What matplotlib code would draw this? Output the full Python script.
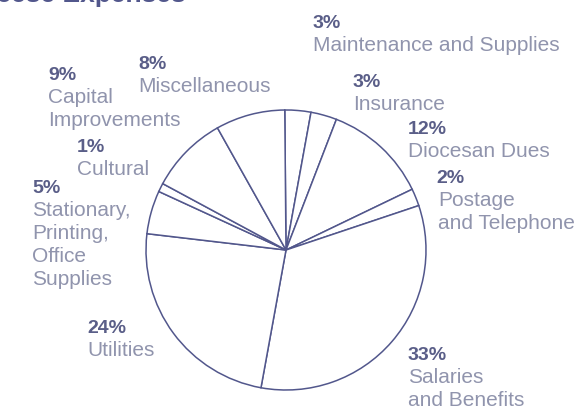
import matplotlib
matplotlib.use("Agg")
import matplotlib.pyplot as plt

# ---- data ----
categories = ["Maintenance and Supplies", "Insurance", "Diocesan Dues",
              "Postage and Telephone", "Salaries and Benefits", "Utilities",
              "Stationary, Printing, Office Supplies", "Cultural",
              "Capital Improvements", "Miscellaneous"]
percents = [3, 3, 12, 2, 33, 24, 5, 1, 9, 8]
label_lines = [["Maintenance and Supplies"], ["Insurance"], ["Diocesan Dues"],
               ["Postage", "and Telephone"], ["Salaries", "and Benefits"],
               ["Utilities"], ["Stationary,", "Printing,", "Office", "Supplies"],
               ["Cultural"], ["Capital", "Improvements"], ["Miscellaneous"]]
title = "Diocese Expenses"

# ---- layout (image pixel coords: x, baseline y of the percent line) ----
label_pos = [(313, 28), (353, 87), (408, 134), (436, 183), (408, 360),
             (87, 333), (32, 193), (77, 152), (48, 80), (138, 69)]
name_dx = [0, 0, 0, 2, 0, 0, 0, 0, 0, 0]

W, H = 579, 411
line_col = "#52578c"
pct_col = "#5a5e88"
name_col = "#9094ad"

fig = plt.figure(figsize=(W / 100, H / 100), dpi=100)
ax = fig.add_axes([0, 0, 1, 1])
ax.set_xlim(0, W)
ax.set_ylim(0, H)
ax.axis("off")

ax.pie(percents, startangle=90.5, counterclock=False,
       center=(286, H - 250), radius=140, colors=["white"] * len(percents),
       wedgeprops=dict(edgecolor=line_col, linewidth=1.1))
ax.set_xlim(0, W)
ax.set_ylim(0, H)
ax.set_aspect("auto")

font = "Liberation Sans"
step = 23
for i, p in enumerate(percents):
    x, y = label_pos[i]
    ax.text(x, H - y, f"{p}%", ha="left", va="baseline", family=font,
            fontsize=14, fontweight="bold", color=pct_col)
    for j, ln in enumerate(label_lines[i]):
        ax.text(x + name_dx[i], H - (y + step * (j + 1)), ln, ha="left",
                va="baseline", family=font, fontsize=15, color=name_col)

ax.text(186, H - 2, title, ha="right", va="baseline", family=font,
        fontsize=19, fontweight="bold", color=line_col)

fig.savefig("out.png", dpi=100, facecolor="white")
